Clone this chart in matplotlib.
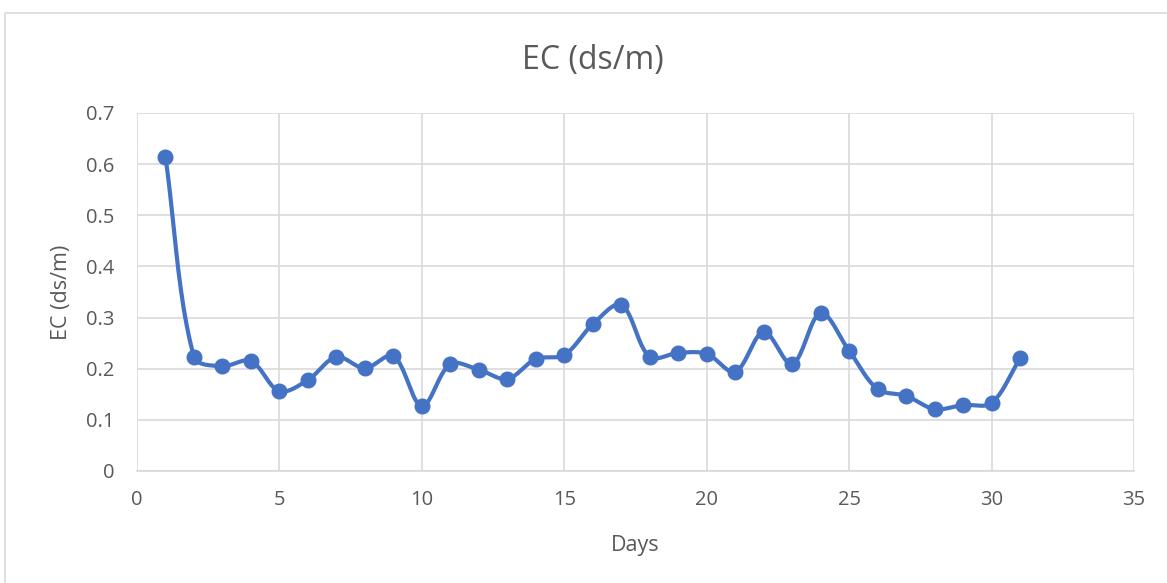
import numpy as np
import matplotlib.pyplot as plt
from matplotlib.patches import Rectangle

# data
days = list(range(1, 32))
ec = [0.614, 0.223, 0.205, 0.215, 0.156, 0.178, 0.223, 0.201, 0.225, 0.127,
      0.209, 0.198, 0.180, 0.219, 0.227, 0.287, 0.325, 0.223, 0.231, 0.229,
      0.194, 0.272, 0.209, 0.309, 0.235, 0.160, 0.147, 0.121, 0.129, 0.133,
      0.221]

x_ticks = [0, 5, 10, 15, 20, 25, 30, 35]
y_ticks = [0, 0.1, 0.2, 0.3, 0.4, 0.5, 0.6, 0.7]

BLUE = "#4472C4"
GREY = "#595959"
GRID = "#D9D9D9"


# smoothed line like excel: bezier through the points, control arms
# scaled by the neighbouring segment lengths (measured in pixels)
def smooth(xs, ys, sx=28.5, sy=511.4, n=24):
    P = np.column_stack([np.asarray(xs, float) * sx, np.asarray(ys, float) * sy])
    P = np.vstack([P[0], P, P[-1]])
    t = np.linspace(0, 1, n)[:, None]
    out = []
    for i in range(1, len(P) - 2):
        p0, p1, p2, p3 = P[i-1], P[i], P[i+1], P[i+2]
        d01 = np.hypot(*(p1 - p0)) + 1e-9
        d12 = np.hypot(*(p2 - p1)) + 1e-9
        d23 = np.hypot(*(p3 - p2)) + 1e-9
        t1 = (p2 - p0) / (d01 + d12)
        t2 = (p3 - p1) / (d12 + d23)
        c1 = p1 + t1 * d12 / 3
        c2 = p2 - t2 * d12 / 3
        b = (1-t)**3*p1 + 3*(1-t)**2*t*c1 + 3*(1-t)*t**2*c2 + t**3*p2
        out.append(b)
    out = np.vstack(out)
    return out[:, 0] / sx, out[:, 1] / sy


plt.rcParams['font.family'] = ['Open Sans', 'DejaVu Sans']

fig = plt.figure(figsize=(11.67, 5.83), dpi=100)
W, H = 1167, 583
ax = fig.add_axes([137/W, 1 - 471/H, (1134-137)/W, (471-113)/H])

# chart border
fig.patches.append(Rectangle((5/W, -0.1), 1.2, 1 - 13/H + 0.1,
                             transform=fig.transFigure, fill=False,
                             edgecolor=GRID, linewidth=1.2))

lx, ly = smooth(days, ec)
ax.plot(lx, ly, color=BLUE, linewidth=3, solid_capstyle='round', zorder=3)
ax.plot(days, ec, 'o', color=BLUE, markersize=10.5, zorder=4)

ax.set_xlim(0, 35)
ax.set_ylim(0, 0.7)
ax.set_xticks(x_ticks)
ax.set_yticks(y_ticks)
ax.set_xticklabels([str(v) for v in x_ticks])
ax.set_yticklabels(["0"] + ["%.1f" % v for v in y_ticks[1:]])
ax.grid(True, color=GRID, linewidth=1.2)
ax.set_axisbelow(True)
for s in ["top", "right", "left"]:
    ax.spines[s].set_visible(False)
ax.spines["bottom"].set_color(GRID)
ax.spines["bottom"].set_linewidth(1.2)
ax.tick_params(length=0, labelsize=14.5, labelcolor=GREY)
ax.tick_params(axis='y', pad=16)
ax.tick_params(axis='x', pad=14)

ax.set_xlabel("Days", fontsize=15.5, color=GREY, labelpad=18)
ax.set_ylabel("EC (ds/m)", fontsize=15.5, color=GREY, labelpad=10)
fig.text(593/W, 1 - 61/H, "EC (ds/m)", fontsize=23, color=GREY,
         ha='center', va='center')

fig.savefig("out.png", dpi=100)
